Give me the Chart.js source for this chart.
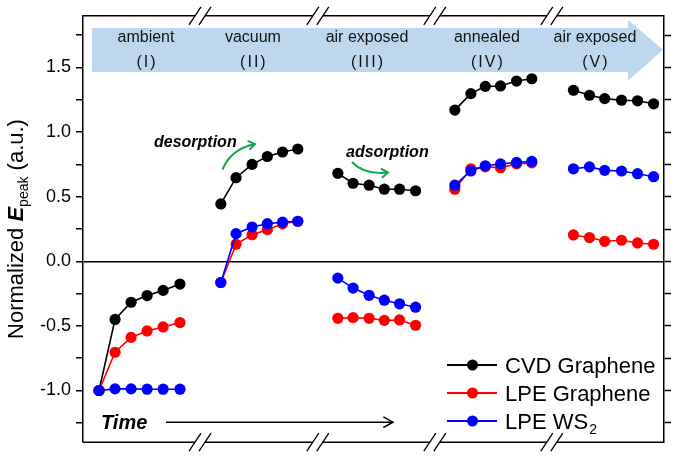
<!DOCTYPE html>
<html><head><meta charset="utf-8">
<script src="https://cdn.jsdelivr.net/npm/chart.js@4"></script>
<style>html,body{margin:0;padding:0;background:#fff}#wrap{width:675px;height:458px;position:relative}</style>
</head><body><div id="wrap"><canvas id="c" width="675" height="458"></canvas></div>
<script>
// ---- data ----
const stages = ['ambient', 'vacuum', 'air exposed', 'annealed', 'air exposed'];
const stageNums = ['(I)', '(II)', '(III)', '(IV)', '(V)'];
const seriesNames = ['CVD Graphene', 'LPE Graphene', 'LPE WS'];
const seriesColors = ['#000000', '#ff0000', '#0000ff'];

const timeI   = [1.0, 2.0, 3.0, 4.0, 5.0, 6.05];
const timeII  = [8.6, 9.55, 10.55, 11.5, 12.45, 13.4];
const timeIII = [15.9, 16.85, 17.85, 18.8, 19.75, 20.75];
const timeIV  = [23.2, 24.2, 25.1, 26.05, 27.05, 28.0];
const timeV   = [30.6, 31.6, 32.55, 33.6, 34.6, 35.6];

const cvdI   = [-1.0, -0.45, -0.317, -0.265, -0.225, -0.176];
const cvdII  = [0.444, 0.647, 0.75, 0.811, 0.846, 0.869];
const cvdIII = [0.681, 0.604, 0.589, 0.558, 0.558, 0.546];
const cvdIV  = [1.17, 1.298, 1.354, 1.357, 1.395, 1.413];
const cvdV   = [1.324, 1.285, 1.259, 1.247, 1.242, 1.219];

const lpeI   = [-1.0, -0.704, -0.589, -0.539, -0.508, -0.474];
const lpeII  = [-0.164, 0.132, 0.206, 0.245, 0.29, 0.31];
const lpeIII = [-0.441, -0.436, -0.441, -0.457, -0.454, -0.495];
const lpeIV  = [0.558, 0.716, 0.731, 0.724, 0.754, 0.762];
const lpeV   = [0.204, 0.184, 0.155, 0.163, 0.142, 0.132];

const ws2I   = [-1.0, -0.987, -0.987, -0.99, -0.99, -0.99];
const ws2II  = [-0.164, 0.214, 0.265, 0.291, 0.303, 0.31];
const ws2III = [-0.13, -0.207, -0.263, -0.301, -0.329, -0.355];
const ws2IV  = [0.589, 0.699, 0.739, 0.754, 0.765, 0.773];
const ws2V   = [0.716, 0.731, 0.704, 0.699, 0.678, 0.655];

const yMin = -1.4, yMax = 1.9, yStep = 0.25;
const xMin = 0, xMax = 36.25;
// axis break positions (time units) and stage-label centres (time units)
const breaksAt = [7.3, 14.65, 21.95, 29.25];
const stageLabelAt = [3.93, 10.6, 17.72, 25.2, 31.94];

// ---- build ----
const segTimes = [timeI, timeII, timeIII, timeIV, timeV];
function build(segs) {
  const pts = [];
  segTimes.forEach((xs, i) => {
    if (i) pts.push({ x: (segTimes[i - 1][5] + xs[0]) / 2, y: null });
    xs.forEach((x, j) => pts.push({ x: x, y: segs[i][j] }));
  });
  return pts;
}
const seriesData = [
  build([cvdI, cvdII, cvdIII, cvdIV, cvdV]),
  build([lpeI, lpeII, lpeIII, lpeIV, lpeV]),
  build([ws2I, ws2II, ws2III, ws2IV, ws2V])
];

const FONT = '"Liberation Sans", Arial, Helvetica, sans-serif';

function arrowHead(ctx, x, y, ang, len, spread) {
  ctx.beginPath();
  ctx.moveTo(x - len * Math.cos(ang - spread), y - len * Math.sin(ang - spread));
  ctx.lineTo(x, y);
  ctx.lineTo(x - len * Math.cos(ang + spread), y - len * Math.sin(ang + spread));
  ctx.stroke();
}

const deco = {
  id: 'deco',
  beforeDatasetsDraw(chart) {
    const { ctx, chartArea: a, scales } = chart;
    const xs = scales.x;
    ctx.save();
    // blue band arrow
    const L = a.left + 9, T = a.top + 12.3, B = a.top + 56.3, HX = a.right - 36, TIP = a.right - 1;
    ctx.fillStyle = '#bdd7ee';
    ctx.beginPath();
    ctx.moveTo(L, T); ctx.lineTo(HX, T); ctx.lineTo(HX, a.top + 4);
    ctx.lineTo(TIP, a.top + 34); ctx.lineTo(HX, a.top + 65); ctx.lineTo(HX, B);
    ctx.lineTo(L, B); ctx.closePath(); ctx.fill();
    ctx.fillStyle = '#111';
    ctx.textAlign = 'center'; ctx.textBaseline = 'alphabetic';
    ctx.font = '16px ' + FONT;
    stages.forEach((s, i) => {
      const cx = xs.getPixelForValue(stageLabelAt[i]);
      ctx.fillText(s, cx, a.top + 26);
      ctx.save();
      ctx.letterSpacing = '2px';
      ctx.fillText(stageNums[i], cx + 1, a.top + 51);
      ctx.restore();
    });
    ctx.restore();
  },
  afterDraw(chart) {
    const { ctx, chartArea: a, scales } = chart;
    const xs = scales.x;
    ctx.save();
    ctx.strokeStyle = '#000'; ctx.lineWidth = 1.5; ctx.lineCap = 'butt';
    // top / bottom frame with breaks
    const bx = breaksAt.map(v => xs.getPixelForValue(v));
    [a.top, a.bottom].forEach(y => {
      let start = a.left;
      ctx.beginPath();
      bx.forEach(c => { ctx.moveTo(start, y); ctx.lineTo(c - 5, y); start = c + 5; });
      ctx.moveTo(start, y); ctx.lineTo(a.right, y);
      ctx.stroke();
      ctx.lineWidth = 1.3;
      bx.forEach(c => {
        [-5, 5].forEach(d => {
          ctx.beginPath();
          ctx.moveTo(c + d - 6, y + 9); ctx.lineTo(c + d + 6, y - 9); ctx.stroke();
        });
      });
      ctx.lineWidth = 1.5;
    });

    // Time arrow
    ctx.fillStyle = '#000';
    ctx.font = 'italic bold 20px ' + FONT;
    ctx.textAlign = 'left'; ctx.textBaseline = 'alphabetic';
    ctx.fillText('Time', a.left + 18, a.bottom - 13.5);
    ctx.lineWidth = 1.5;
    const ay = a.bottom - 20;
    ctx.beginPath(); ctx.moveTo(a.left + 83, ay); ctx.lineTo(a.left + 310, ay); ctx.stroke();
    arrowHead(ctx, a.left + 310, ay, 0, 11, 0.5);

    // adsorption / desorption annotations
    ctx.font = 'italic bold 16px ' + FONT;
    ctx.fillStyle = '#000';
    ctx.fillText('desorption', 154, 146.5);
    ctx.fillText('adsorption', 346, 157);
    ctx.strokeStyle = '#16a54a'; ctx.lineWidth = 2;
    ctx.beginPath(); ctx.moveTo(222.5, 169.5); ctx.quadraticCurveTo(231, 149, 255, 144); ctx.stroke();
    arrowHead(ctx, 255, 144, Math.atan2(144 - 149, 255 - 231), 8, 0.6);
    ctx.beginPath(); ctx.moveTo(352, 162); ctx.quadraticCurveTo(364, 175, 388, 172.5); ctx.stroke();
    arrowHead(ctx, 388, 172.5, Math.atan2(172.5 - 175, 388 - 364), 8, 0.6);

    // legend
    const ly = [365, 393, 421];
    ctx.font = '22px ' + FONT;
    ctx.textBaseline = 'alphabetic';
    seriesNames.forEach((n, i) => {
      const y = ly[i];
      ctx.strokeStyle = seriesColors[i]; ctx.fillStyle = seriesColors[i]; ctx.lineWidth = 1.8;
      ctx.beginPath(); ctx.moveTo(447, y); ctx.lineTo(497, y); ctx.stroke();
      ctx.beginPath(); ctx.arc(472.5, y, 5.5, 0, Math.PI * 2); ctx.fill();
      ctx.fillStyle = '#000';
      ctx.font = '22px ' + FONT;
      ctx.fillText(n, 505, y + 7.5);
      if (i === 2) {
        const w = ctx.measureText(n).width;
        ctx.font = '14px ' + FONT;
        ctx.fillText('2', 505 + w + 1, y + 13);
      }
    });

    // y title
    ctx.save();
    ctx.translate(23, 229);
    ctx.rotate(-Math.PI / 2);
    ctx.fillStyle = '#000';
    const parts = [
      { t: 'Normalized ', f: '22px ' + FONT, dy: 0 },
      { t: 'E', f: 'italic bold 22px ' + FONT, dy: 0 },
      { t: 'peak', f: '14px ' + FONT, dy: 5 },
      { t: ' (a.u.)', f: '22px ' + FONT, dy: 0 }
    ];
    let tot = 0;
    parts.forEach(p => { ctx.font = p.f; p.w = ctx.measureText(p.t).width; tot += p.w; });
    let x = -tot / 2;
    ctx.textAlign = 'left';
    parts.forEach(p => { ctx.font = p.f; ctx.fillText(p.t, x, p.dy); x += p.w; });
    ctx.restore();
    ctx.restore();
  }
};

const mk = (i, order) => ({
  label: seriesNames[i],
  data: seriesData[i],
  borderColor: seriesColors[i],
  backgroundColor: seriesColors[i],
  pointBackgroundColor: seriesColors[i],
  pointBorderWidth: 0,
  pointRadius: 5.6,
  pointHoverRadius: 5.6,
  borderWidth: 1.6,
  tension: 0,
  spanGaps: false,
  clip: false,
  order: order
});

new Chart(document.getElementById('c'), {
  type: 'line',
  data: { datasets: [mk(0, 2), mk(1, 1), mk(2, 0)] },
  options: {
    responsive: false,
    animation: false,
    events: [],
    layout: { padding: { left: 0, right: 0, top: 13, bottom: 14 }, autoPadding: false },
    plugins: { legend: { display: false }, tooltip: { enabled: false } },
    scales: {
      x: { type: 'linear', min: xMin, max: xMax, display: false },
      y: {
        type: 'linear', position: 'left', min: yMin, max: yMax,
        afterFit(s) { s.width = 83; },
        ticks: {
          stepSize: yStep, includeBounds: false, color: '#000', padding: 5,
          font: { family: FONT, size: 18 },
          callback: v => (Math.abs(v * 2 - Math.round(v * 2)) < 1e-6 ? v.toFixed(1) : '')
        },
        grid: {
          drawOnChartArea: true, drawTicks: true, tickLength: 7,
          color: c => (c.tick && Math.abs(c.tick.value) < 1e-9 ? '#000' : 'rgba(0,0,0,0)'),
          lineWidth: 1.5, tickColor: '#000', tickWidth: 1.5
        },
        border: { display: true, color: '#000', width: 1.5 }
      },
      y2: {
        type: 'linear', position: 'right', min: yMin, max: yMax,
        afterFit(s) { s.width = 11; },
        ticks: { stepSize: yStep, includeBounds: false, callback: () => '', font: { size: 1 } },
        grid: { drawOnChartArea: false, drawTicks: true, tickLength: 7, tickColor: '#000', tickWidth: 1.5 },
        border: { display: true, color: '#000', width: 1.5 }
      }
    }
  },
  plugins: [deco]
});
</script>
</body></html>
